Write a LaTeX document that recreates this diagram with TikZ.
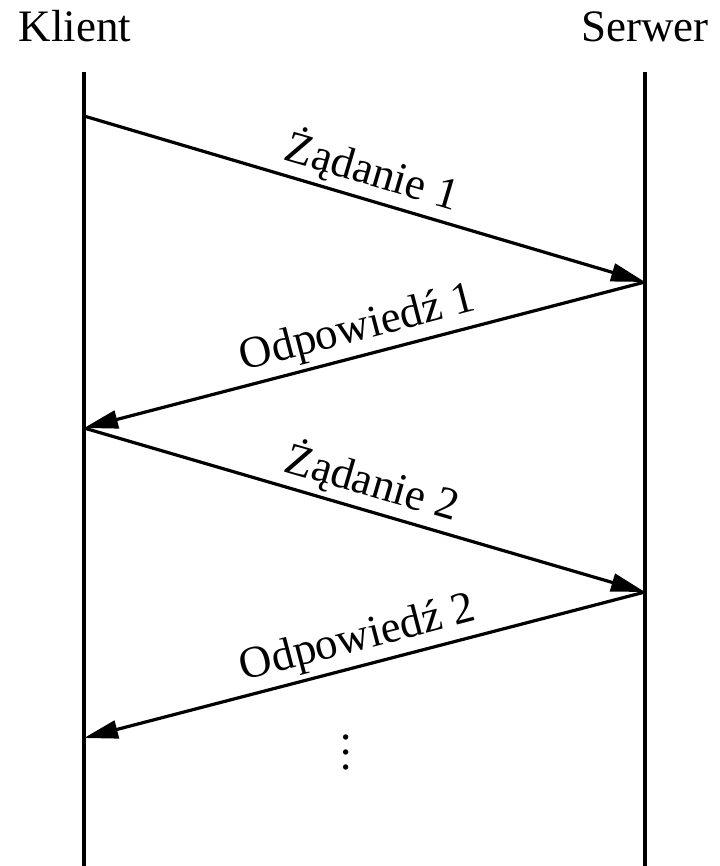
\documentclass[tikz,border=0pt]{standalone}
\usepackage{fontspec}
\setmainfont{Liberation Serif}
\usepackage{tikz}
\usetikzlibrary{arrows.meta}
\tikzset{
	% lifelines and messages of the sequence diagram
	lifeline/.style={line width=1.6pt},
	msg/.style={line width=1.6pt,-{Triangle[length=17pt,width=9pt]}},
	msg label/.style={sloped,above,inner sep=2pt}
}

\begin{document}
\begin{tikzpicture}[x=0.5pt,y=-0.5pt,font=\fontsize{22.5}{27}\selectfont]
			% macro for drawing one message between two lifelines
			\newcommand{\komunikat}[3]{\draw[msg](#1) -- node[msg label]{#3} (#2);}
			\useasboundingbox (0,0) rectangle (719,866);
			% participants
			\node(klient)[anchor=base] at (75,42) {Klient};
			\node(serwer)[anchor=base] at (645,42) {Serwer};
			% ends of the lifelines
			\coordinate (k-top) at (84,72);
			\coordinate (k-bot) at (84,866);
			\coordinate (s-top) at (645,72);
			\coordinate (s-bot) at (645,866);
			% points where the messages leave and arrive
			\coordinate (k-1) at (84,116);
			\coordinate (s-1) at (645,282);
			\coordinate (k-2) at (84,428);
			\coordinate (s-2) at (645,592);
			\coordinate (k-3) at (84,738);
			\draw[lifeline] (k-top) -- (k-bot);
			\draw[lifeline] (s-top) -- (s-bot);
			\komunikat{k-1}{s-1}{Żądanie 1}
			\komunikat{s-1}{k-2}{Odpowiedź 1}
			\komunikat{k-2}{s-2}{Żądanie 2}
			\komunikat{s-2}{k-3}{Odpowiedź 2}
			\node(dalej) at (346,752) {\vbox{\baselineskip=7.5pt\hbox{.}\hbox{.}\hbox{.}}};
		\end{tikzpicture}
\end{document}
